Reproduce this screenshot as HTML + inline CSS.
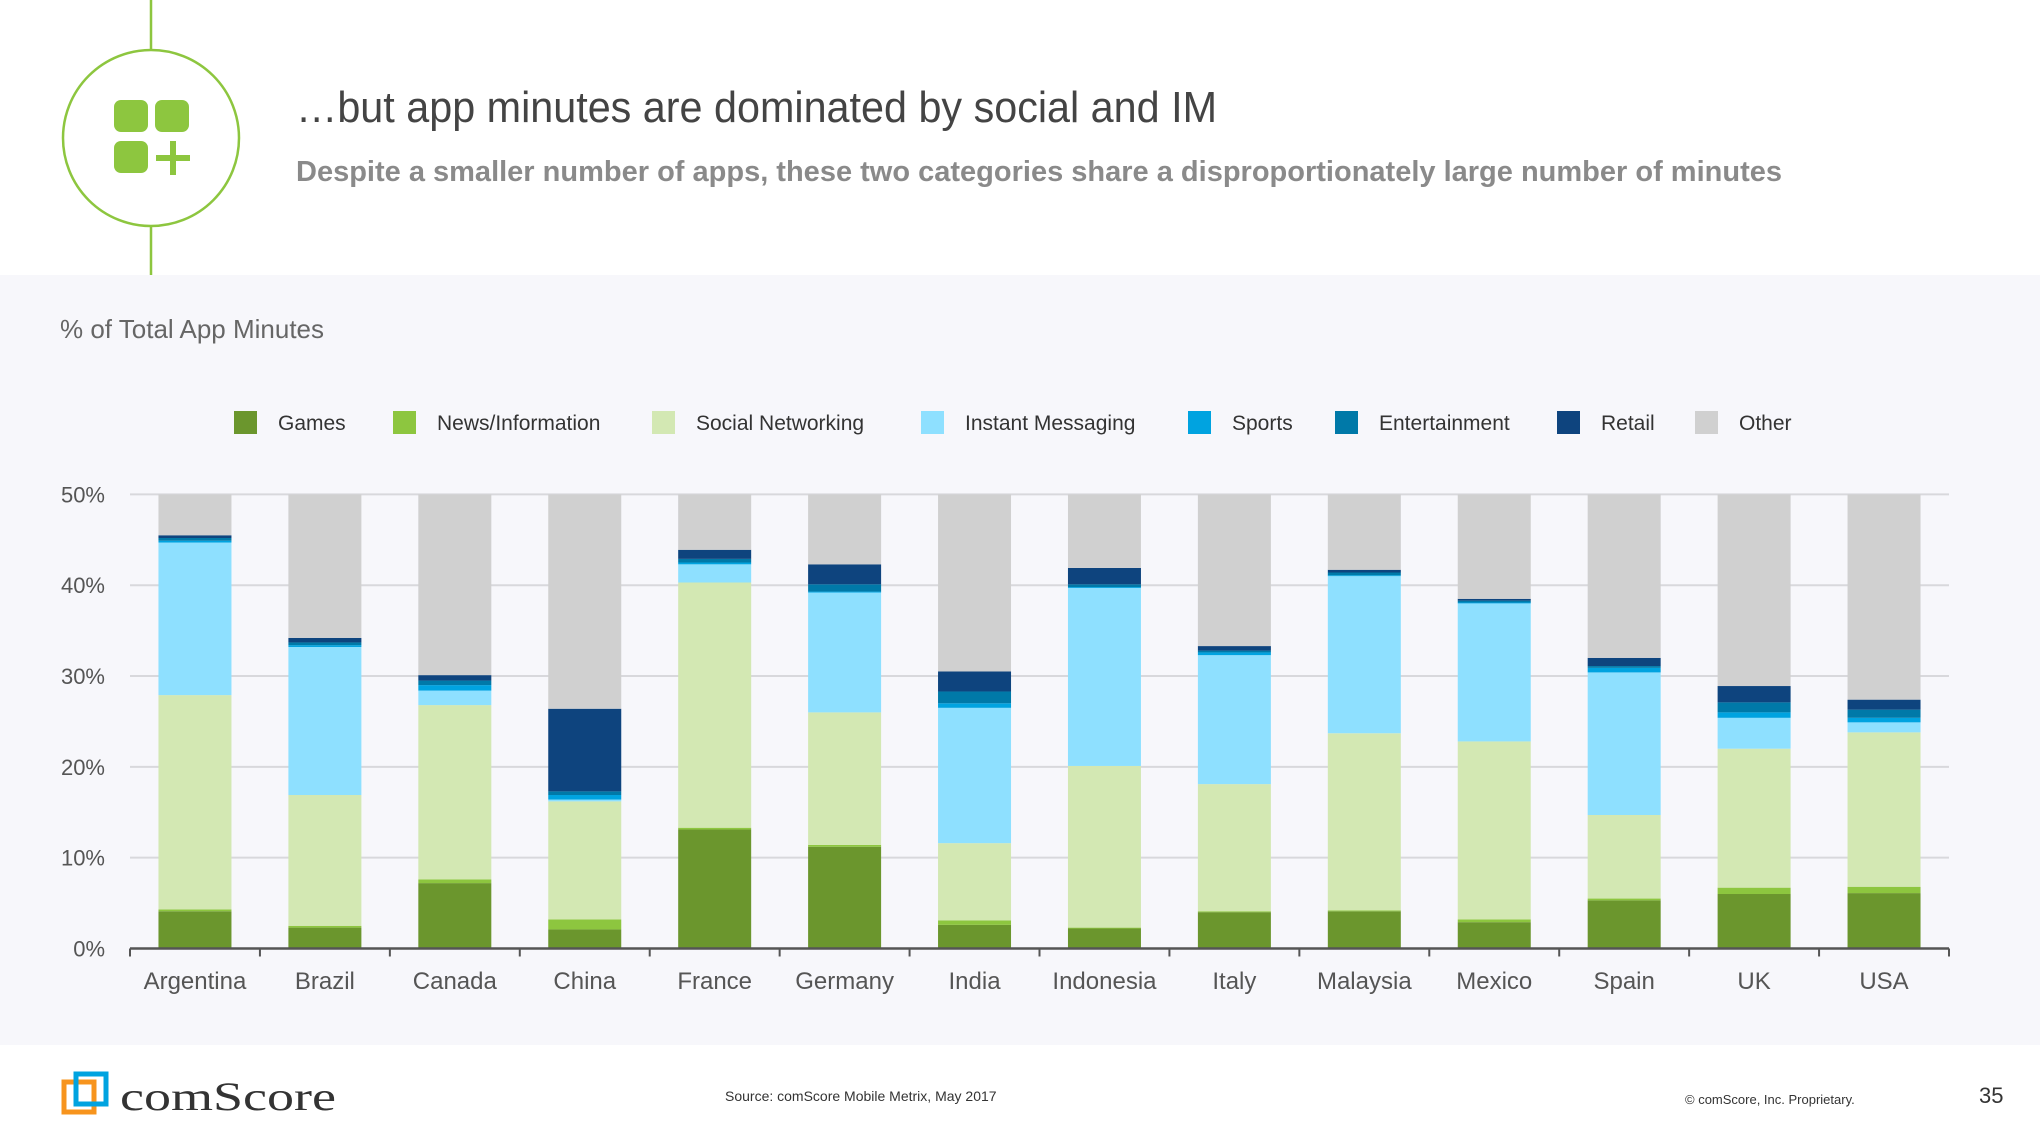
<!DOCTYPE html>
<html><head><meta charset="utf-8"><style>
html,body{margin:0;padding:0;background:#fff;}
svg{display:block;font-family:"Liberation Sans",sans-serif;}
</style></head><body>
<svg id="s" width="2040" height="1148" viewBox="0 0 2040 1148">
<rect x="0" y="0" width="2040" height="1148" fill="#fff"/>
<rect x="0" y="275" width="2040" height="770" fill="#f7f7fb"/>
<g>
<line x1="151" y1="0" x2="151" y2="275" stroke="#8dc63f" stroke-width="2.5"/>
<circle cx="151" cy="138" r="88" fill="#fff" stroke="#8dc63f" stroke-width="2.5"/>
<rect x="114" y="100" width="34" height="32" rx="7" fill="#8dc63f"/>
<rect x="155" y="100" width="34" height="32" rx="7" fill="#8dc63f"/>
<rect x="114" y="141" width="34" height="32" rx="7" fill="#8dc63f"/>
<rect x="170" y="141" width="6" height="34" fill="#8dc63f"/>
<rect x="156" y="155" width="34" height="6" fill="#8dc63f"/>
</g>
<text x="296" y="122" font-size="44" fill="#444" textLength="921" lengthAdjust="spacingAndGlyphs">…but app minutes are dominated by social and IM</text>
<text x="296" y="181" font-size="29" font-weight="bold" fill="#8a8a8a" textLength="1486" lengthAdjust="spacingAndGlyphs">Despite a smaller number of apps, these two categories share a disproportionately large number of minutes</text>
<text x="60" y="338" font-size="26" fill="#666">% of Total App Minutes</text>
<g id="legend"></g>
<g id="grid"></g>
<g id="bars"></g>
<g id="axes"></g>
<g>
<g>
<rect x="64" y="1082" width="30" height="30" fill="none" stroke="#f7941d" stroke-width="5"/>
<rect x="76" y="1074" width="30" height="30" fill="none" stroke="#00a3e0" stroke-width="5"/>
<text x="120" y="1110" font-size="40" fill="#333" font-family="Liberation Serif, serif" textLength="216" lengthAdjust="spacingAndGlyphs">comScore</text>
</g>
<text x="725" y="1101" font-size="14" fill="#333">Source: comScore Mobile Metrix, May 2017</text>
<text x="1685" y="1104" font-size="13" fill="#333">© comScore, Inc. Proprietary.</text>
<text x="1979" y="1103" font-size="22" fill="#333">35</text>
</g>
</svg>
<script>
const categories=["Argentina","Brazil","Canada","China","France","Germany","India","Indonesia","Italy","Malaysia","Mexico","Spain","UK","USA"];
const seriesNames=["Games","News/Information","Social Networking","Instant Messaging","Sports","Entertainment","Retail","Other"];
const games=[4.1,2.3,7.2,2.1,13.1,11.2,2.6,2.2,4.0,4.1,2.9,5.3,6.0,6.1];
const news=[0.2,0.2,0.4,1.1,0.2,0.2,0.5,0.1,0.1,0.1,0.3,0.2,0.7,0.7];
const social=[23.6,14.4,19.2,13.0,27.0,14.6,8.5,17.8,14.0,19.5,19.6,9.2,15.3,17.0];
const im=[16.8,16.3,1.6,0.2,2.0,13.2,14.9,19.6,14.2,17.3,15.2,15.7,3.4,1.1];
const sports=[0.2,0.2,0.6,0.5,0.2,0.1,0.5,0.1,0.3,0.1,0.1,0.5,0.6,0.5];
const entertainment=[0.3,0.3,0.5,0.4,0.4,0.8,1.3,0.3,0.2,0.3,0.2,0.2,1.1,0.9];
const retail=[0.3,0.5,0.6,9.1,1.0,2.2,2.2,1.8,0.5,0.3,0.2,0.9,1.8,1.1];
const other=[4.5,15.8,19.9,23.6,6.1,7.7,19.5,8.1,16.7,8.3,11.5,18.0,21.1,22.6];
const yTicks=[0,10,20,30,40,50];
const colors=["#6b962d","#8dc63f","#d3e8b3","#8ee0ff","#00a3e0","#0079a8","#0e447e","#d0d0d0"];
const series=[games,news,social,im,sports,entertainment,retail,other];
const NS="http://www.w3.org/2000/svg";
const X0=130,X1=1949,Y0=948.5,YT=494.4,YMAX=50;
const band=(X1-X0)/categories.length,barW=73;
const y=v=>Y0-(v/YMAX)*(Y0-YT);
const xc=i=>X0+band*(i+0.5);
function mk(tag,attrs,parent){const e=document.createElementNS(NS,tag);for(const k in attrs)e.setAttribute(k,attrs[k]);parent.appendChild(e);return e;}
const grid=document.getElementById('grid'),bars=document.getElementById('bars'),axes=document.getElementById('axes'),legend=document.getElementById('legend');
yTicks.forEach(t=>{
 if(t>0){const l=mk('line',{x1:X0,x2:X1,y1:y(t),y2:y(t),stroke:'#d8d8dc','stroke-width':2},grid);
 
 }
 const tx=mk('text',{x:105,y:y(t)+8,'text-anchor':'end','font-size':22,fill:'#555'},axes);tx.textContent=t+'%';
 
 
});
categories.forEach((c,i)=>{
 let cum=0;
 series.forEach((s,k)=>{
  const v=s[i];const r=mk('rect',{x:xc(i)-barW/2,y:y(cum+v),width:barW,height:Math.max(0,y(cum)-y(cum+v)),fill:colors[k]},bars);
  
  
  cum+=v;
 });
 const tx=mk('text',{x:xc(i),y:989,'text-anchor':'middle','font-size':24,fill:'#555'},axes);tx.textContent=c;
 
 
});
const ax=mk('line',{x1:X0,x2:X1,y1:Y0,y2:Y0,stroke:'#555','stroke-width':2.5},axes);


for(let i=0;i<=categories.length;i++){const t=mk('line',{x1:X0+band*i,x2:X0+band*i,y1:Y0,y2:Y0+8,stroke:'#555','stroke-width':2},axes);
 
 }
const legX=[234,393,652,921,1188,1335,1557,1695];
seriesNames.forEach((n,k)=>{
 const g=mk('g',{},legend);
 
 
 mk('rect',{x:legX[k],y:411,width:23,height:23,fill:colors[k]},g);
 const t=mk('text',{x:legX[k]+44,y:430,'font-size':21,fill:'#333'},g);t.textContent=n;
});
</script>
</body></html>
